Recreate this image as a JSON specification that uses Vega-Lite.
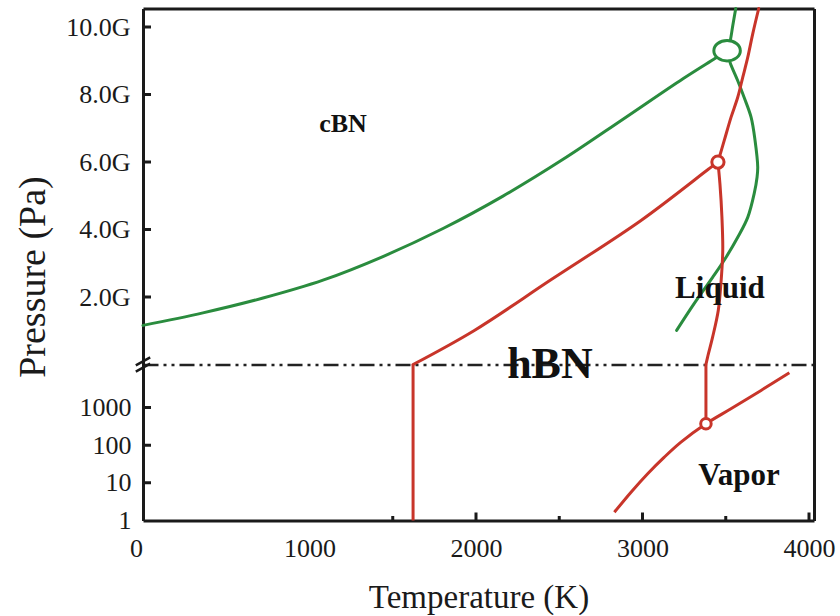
{
  "$schema": "https://vega.github.io/schema/vega-lite/v6.json",
  "padding": {"left": 14, "top": 2.5, "right": 4, "bottom": 0},
  "bounds": "flush",
  "spacing": 0,
  "resolve": {"scale": {"size": "independent", "shape": "independent"}},
  "datasets": {
    "upper": [
      {"curve": "g1", "set": "A", "i": 0, "T": 0, "P": 1.16},
      {"curve": "g1", "set": "A", "i": 1, "T": 360, "P": 1.53},
      {"curve": "g1", "set": "A", "i": 2, "T": 721, "P": 1.97},
      {"curve": "g1", "set": "A", "i": 3, "T": 1081, "P": 2.50},
      {"curve": "g1", "set": "A", "i": 4, "T": 1441, "P": 3.20},
      {"curve": "g1", "set": "A", "i": 5, "T": 1802, "P": 4.03},
      {"curve": "g1", "set": "A", "i": 6, "T": 2162, "P": 4.99},
      {"curve": "g1", "set": "A", "i": 7, "T": 2523, "P": 6.08},
      {"curve": "g1", "set": "A", "i": 8, "T": 2883, "P": 7.27},
      {"curve": "g1", "set": "A", "i": 9, "T": 3243, "P": 8.47},
      {"curve": "g1", "set": "A", "i": 10, "T": 3435, "P": 9.07},
      {"curve": "g1", "set": "A", "i": 11, "T": 3508, "P": 9.30},
      {"curve": "g2", "set": "A", "i": 0, "T": 3508, "P": 9.30},
      {"curve": "g2", "set": "A", "i": 1, "T": 3527, "P": 9.60},
      {"curve": "g2", "set": "A", "i": 2, "T": 3542, "P": 10.04},
      {"curve": "g2", "set": "A", "i": 3, "T": 3560, "P": 10.55},
      {"curve": "g3", "set": "A", "i": 0, "T": 3508, "P": 9.30},
      {"curve": "g3", "set": "A", "i": 1, "T": 3526, "P": 8.95},
      {"curve": "g3", "set": "A", "i": 2, "T": 3572, "P": 8.41},
      {"curve": "g3", "set": "A", "i": 3, "T": 3610, "P": 7.92},
      {"curve": "g3", "set": "A", "i": 4, "T": 3652, "P": 7.33},
      {"curve": "g3", "set": "A", "i": 5, "T": 3676, "P": 6.64},
      {"curve": "g3", "set": "A", "i": 6, "T": 3692, "P": 5.85},
      {"curve": "g3", "set": "A", "i": 7, "T": 3688, "P": 5.55},
      {"curve": "g3", "set": "A", "i": 8, "T": 3671, "P": 5.07},
      {"curve": "g3", "set": "A", "i": 9, "T": 3632, "P": 4.36},
      {"curve": "g3", "set": "A", "i": 10, "T": 3572, "P": 3.77},
      {"curve": "g3", "set": "A", "i": 11, "T": 3502, "P": 3.18},
      {"curve": "g3", "set": "A", "i": 12, "T": 3422, "P": 2.59},
      {"curve": "g3", "set": "A", "i": 13, "T": 3311, "P": 1.81},
      {"curve": "g3", "set": "A", "i": 14, "T": 3205, "P": 1.01},
      {"curve": "r1", "set": "B", "i": 0, "T": 1622, "P": 0},
      {"curve": "r1", "set": "B", "i": 1, "T": 1990, "P": 1.01},
      {"curve": "r1", "set": "B", "i": 2, "T": 2450, "P": 2.51},
      {"curve": "r1", "set": "B", "i": 3, "T": 2991, "P": 4.27},
      {"curve": "r1", "set": "B", "i": 4, "T": 3399, "P": 5.80},
      {"curve": "r1", "set": "B", "i": 5, "T": 3453, "P": 6.0},
      {"curve": "r2", "set": "B", "i": 0, "T": 3453, "P": 6.0},
      {"curve": "r2", "set": "B", "i": 1, "T": 3491, "P": 6.64},
      {"curve": "r2", "set": "B", "i": 2, "T": 3532, "P": 7.33},
      {"curve": "r2", "set": "B", "i": 3, "T": 3572, "P": 7.92},
      {"curve": "r2", "set": "B", "i": 4, "T": 3602, "P": 8.51},
      {"curve": "r2", "set": "B", "i": 5, "T": 3632, "P": 9.10},
      {"curve": "r2", "set": "B", "i": 6, "T": 3662, "P": 9.80},
      {"curve": "r2", "set": "B", "i": 7, "T": 3698, "P": 10.55},
      {"curve": "r3", "set": "B", "i": 0, "T": 3453, "P": 6.0},
      {"curve": "r3", "set": "B", "i": 1, "T": 3465, "P": 5.36},
      {"curve": "r3", "set": "B", "i": 2, "T": 3477, "P": 4.37},
      {"curve": "r3", "set": "B", "i": 3, "T": 3482, "P": 3.38},
      {"curve": "r3", "set": "B", "i": 4, "T": 3471, "P": 2.40},
      {"curve": "r3", "set": "B", "i": 5, "T": 3455, "P": 1.60},
      {"curve": "r3", "set": "B", "i": 6, "T": 3421, "P": 0.81},
      {"curve": "r3", "set": "B", "i": 7, "T": 3391, "P": 0.22},
      {"curve": "r3", "set": "B", "i": 8, "T": 3381, "P": 0}
    ],
    "lower": [
      {"curve": "r4", "set": "B", "i": 0, "T": 1622, "P": 1},
      {"curve": "r4", "set": "B", "i": 1, "T": 1622, "P": 14000},
      {"curve": "r5", "set": "B", "i": 0, "T": 3381, "P": 14000},
      {"curve": "r5", "set": "B", "i": 1, "T": 3381, "P": 373},
      {"curve": "r6", "set": "B", "i": 0, "T": 2831, "P": 1.66},
      {"curve": "r6", "set": "B", "i": 1, "T": 2931, "P": 5.66},
      {"curve": "r6", "set": "B", "i": 2, "T": 3031, "P": 17.5},
      {"curve": "r6", "set": "B", "i": 3, "T": 3131, "P": 48.3},
      {"curve": "r6", "set": "B", "i": 4, "T": 3231, "P": 121},
      {"curve": "r6", "set": "B", "i": 5, "T": 3381, "P": 373},
      {"curve": "r6", "set": "B", "i": 6, "T": 3531, "P": 934},
      {"curve": "r6", "set": "B", "i": 7, "T": 3712, "P": 2864},
      {"curve": "r6", "set": "B", "i": 8, "T": 3882, "P": 8470}
    ],
    "upperPoints": [
      {"set": "A", "T": 3508, "P": 9.30},
      {"set": "B", "T": 3453, "P": 6.0}
    ],
    "lowerPoints": [
      {"set": "B", "T": 3381, "P": 373}
    ],
    "upperTicksP": [{"P": 2}, {"P": 4}, {"P": 6}, {"P": 8}, {"P": 10}],
    "lowerTicksP": [{"P": 10}, {"P": 100}, {"P": 1000}],
    "lowerTicksT": [
      {"T": 1500, "kind": "minor"}, {"T": 2000, "kind": "major"},
      {"T": 2500, "kind": "minor"}, {"T": 3000, "kind": "major"},
      {"T": 3500, "kind": "minor"}, {"T": 4000, "kind": "major"}
    ]
  },
  "vconcat": [
    {
      "width": 671,
      "height": 356,
      "layer": [
        {
          "data": {"name": "upper"},
          "mark": {"type": "line", "strokeWidth": 3, "strokeCap": "round", "interpolate": "catmull-rom"},
          "encoding": {
            "x": {"field": "T", "type": "quantitative",
              "scale": {"domain": [0, 4030], "nice": false, "zero": false},
              "axis": {"orient": "bottom", "labels": false, "ticks": false, "title": null,
                "domainDash": [15, 5, 3, 5, 3, 5], "domainWidth": 2.5, "domainColor": "#222222"}},
            "y": {"field": "P", "type": "quantitative",
              "scale": {"domain": [0, 10.55], "nice": false},
              "axis": {"orient": "left", "values": [2, 4, 6, 8, 10],
                "labelExpr": "format(datum.value, '.1f') + 'G'",
                "ticks": false, "labelPadding": 13,
                "title": "Pressure (Pa)", "titleFontSize": 38,
                "titleX": -99, "titleY": 268, "titleAngle": -90,
                "titleAlign": "center", "titleBaseline": "alphabetic"}},
            "color": {"field": "set", "type": "nominal",
              "scale": {"domain": ["A", "B"], "range": ["#2a8c3e", "#c8352a"]}, "legend": null},
            "detail": {"field": "curve"},
            "order": {"field": "i", "type": "quantitative"}
          }
        },
        {
          "data": {"name": "upperTicksP"},
          "mark": {"type": "tick", "orient": "horizontal", "size": 16, "thickness": 3, "color": "#1a1a1a", "opacity": 1, "clip": true},
          "encoding": {
            "x": {"datum": 0, "type": "quantitative", "axis": null},
            "y": {"field": "P", "type": "quantitative", "axis": null}
          }
        },
        {
          "data": {"values": [{"label": "cBN", "T": 1201, "P": 7.14}]},
          "mark": {"type": "text", "font": "Liberation Serif", "fontWeight": "bold", "fontSize": 26, "align": "center", "baseline": "middle", "color": "#111111"},
          "encoding": {
            "x": {"field": "T", "type": "quantitative", "axis": null},
            "y": {"field": "P", "type": "quantitative", "axis": null},
            "text": {"field": "label"}
          }
        },
        {
          "data": {"values": [{"label": "Liquid", "T": 3465, "P": 2.25}]},
          "mark": {"type": "text", "font": "Liberation Serif", "fontWeight": "bold", "fontSize": 31, "align": "center", "baseline": "middle", "color": "#111111"},
          "encoding": {
            "x": {"field": "T", "type": "quantitative", "axis": null},
            "y": {"field": "P", "type": "quantitative", "axis": null},
            "text": {"field": "label"}
          }
        },
        {
          "data": {"values": [{"label": "hBN", "T": 2444, "P": 0}]},
          "mark": {"type": "text", "font": "Liberation Serif", "fontWeight": "bold", "fontSize": 44, "align": "center", "baseline": "middle", "color": "#111111"},
          "encoding": {
            "x": {"field": "T", "type": "quantitative", "axis": null},
            "y": {"field": "P", "type": "quantitative", "axis": null},
            "text": {"field": "label"}
          }
        },
        {
          "data": {"values": [{"mark": "axis break"}]},
          "mark": {"type": "point", "shape": "M-0.9,0.1L0.9,-0.9M-0.9,0.9L0.9,-0.1", "filled": false, "stroke": "#1a1a1a", "strokeWidth": 2.5, "size": 256, "opacity": 1},
          "encoding": {
            "x": {"datum": 0, "type": "quantitative", "axis": null},
            "y": {"datum": 0, "type": "quantitative", "axis": null}
          }
        },
        {
          "data": {"name": "upperPoints"},
          "mark": {"type": "point", "filled": false, "fill": "white", "fillOpacity": 1, "strokeWidth": 3, "opacity": 1},
          "encoding": {
            "x": {"field": "T", "type": "quantitative",
              "axis": {"orient": "top", "labels": false, "ticks": false, "title": null}},
            "y": {"field": "P", "type": "quantitative",
              "axis": {"orient": "right", "labels": false, "ticks": false, "title": null}},
            "color": {"field": "set", "type": "nominal",
              "scale": {"domain": ["A", "B"], "range": ["#2a8c3e", "#c8352a"]}, "legend": null},
            "shape": {"field": "set", "type": "nominal",
              "scale": {"domain": ["A", "B"], "range": ["M-1,0A1,0.77,0,1,0,1,0A1,0.77,0,1,0,-1,0Z", "circle"]}, "legend": null},
            "size": {"field": "set", "type": "nominal",
              "scale": {"domain": ["A", "B"], "range": [702, 150]}, "legend": null}
          }
        }
      ],
      "resolve": {"axis": {"x": "independent", "y": "independent"}}
    },
    {
      "width": 671,
      "height": 156,
      "layer": [
        {
          "data": {"name": "lower"},
          "mark": {"type": "line", "strokeWidth": 3, "strokeCap": "butt", "interpolate": "catmull-rom"},
          "encoding": {
            "x": {"field": "T", "type": "quantitative",
              "scale": {"domain": [0, 4030], "nice": false, "zero": false},
              "axis": {"orient": "bottom", "values": [0, 1000, 2000, 3000, 4000],
                "format": "d", "ticks": false,
                "labelOffset": {"condition": {"test": "datum.value === 0", "value": -7}, "value": 0},
                "labelPadding": 14.5,
                "title": "Temperature (K)", "titleFontSize": 33,
                "titleY": 87, "titleBaseline": "alphabetic"}},
            "y": {"field": "P", "type": "quantitative",
              "scale": {"type": "log", "domain": [1, 14000], "nice": false},
              "axis": {"orient": "left", "values": [1, 10, 100, 1000], "format": "d",
                "ticks": false, "labelPadding": 12, "title": null}},
            "color": {"field": "set", "type": "nominal",
              "scale": {"domain": ["A", "B"], "range": ["#2a8c3e", "#c8352a"]}, "legend": null},
            "detail": {"field": "curve"},
            "order": {"field": "i", "type": "quantitative"}
          }
        },
        {
          "data": {"name": "lowerTicksP"},
          "mark": {"type": "tick", "orient": "horizontal", "size": 16, "thickness": 3, "color": "#1a1a1a", "opacity": 1, "clip": true},
          "encoding": {
            "x": {"datum": 0, "type": "quantitative", "axis": null},
            "y": {"field": "P", "type": "quantitative", "axis": null}
          }
        },
        {
          "data": {"name": "lowerTicksT"},
          "transform": [{"filter": "datum.kind === 'major'"}],
          "mark": {"type": "tick", "orient": "vertical", "size": 16, "thickness": 3, "color": "#1a1a1a", "opacity": 1, "clip": true},
          "encoding": {
            "x": {"field": "T", "type": "quantitative", "axis": null},
            "y": {"datum": 1, "type": "quantitative", "axis": null}
          }
        },
        {
          "data": {"name": "lowerTicksT"},
          "transform": [{"filter": "datum.kind === 'minor'"}],
          "mark": {"type": "tick", "orient": "vertical", "size": 9, "thickness": 3, "color": "#1a1a1a", "opacity": 1, "clip": true},
          "encoding": {
            "x": {"field": "T", "type": "quantitative", "axis": null},
            "y": {"datum": 1, "type": "quantitative", "axis": null}
          }
        },
        {
          "data": {"values": [{"label": "Vapor", "T": 3580, "P": 14.8}]},
          "mark": {"type": "text", "font": "Liberation Serif", "fontWeight": "bold", "fontSize": 31, "align": "center", "baseline": "middle", "color": "#111111"},
          "encoding": {
            "x": {"field": "T", "type": "quantitative", "axis": null},
            "y": {"field": "P", "type": "quantitative", "axis": null},
            "text": {"field": "label"}
          }
        },
        {
          "data": {"name": "lowerPoints"},
          "mark": {"type": "point", "shape": "circle", "filled": false, "fill": "white", "fillOpacity": 1, "strokeWidth": 3, "size": 110, "opacity": 1},
          "encoding": {
            "x": {"field": "T", "type": "quantitative", "axis": null},
            "y": {"field": "P", "type": "quantitative",
              "axis": {"orient": "right", "labels": false, "ticks": false, "title": null}},
            "color": {"field": "set", "type": "nominal",
              "scale": {"domain": ["A", "B"], "range": ["#2a8c3e", "#c8352a"]}, "legend": null}
          }
        }
      ],
      "resolve": {"axis": {"x": "independent", "y": "independent"}}
    }
  ],
  "config": {
    "view": {"stroke": null},
    "font": "Liberation Serif",
    "axis": {
      "labelFont": "Liberation Serif", "labelFontSize": 26, "labelColor": "#1a1a1a",
      "titleFont": "Liberation Serif", "titleFontWeight": "normal", "titleColor": "#1a1a1a",
      "domainColor": "#1a1a1a", "domainWidth": 3,
      "grid": false, "labelFlush": false, "labelOverlap": false
    }
  }
}
